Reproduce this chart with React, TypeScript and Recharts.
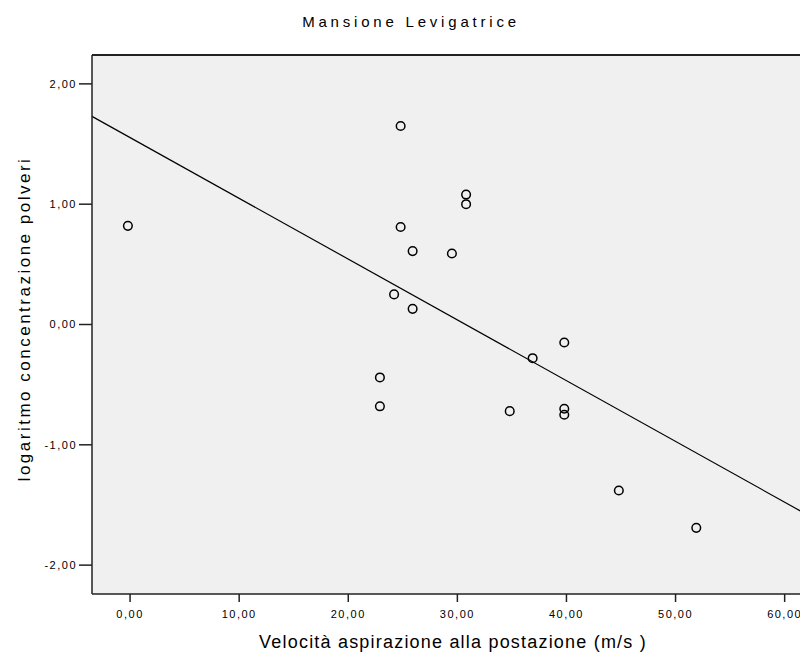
import React from "react";
import {
  ScatterChart,
  Scatter,
  XAxis,
  YAxis,
  CartesianGrid,
  ReferenceLine,
} from "recharts";

// Data
const velocity = [-0.2, 24.8, 30.8, 30.8, 24.8, 25.9, 29.5, 24.2, 25.9, 39.8, 36.9, 22.9, 22.9, 34.8, 39.8, 39.8, 44.8, 51.9];
const logConcentration = [0.82, 1.65, 1.08, 1.0, 0.81, 0.61, 0.59, 0.25, 0.13, -0.15, -0.28, -0.44, -0.68, -0.72, -0.7, -0.75, -1.38, -1.69];

// Fit line endpoints (at plot edges)
const fitLineX = [-3.49, 62.14];
const fitLineY = [1.73, -1.585];

const xTicks = [0, 10, 20, 30, 40, 50, 60];
const yTicks = [-2, -1, 0, 1, 2];
const xDomain = [-3.49, 62.14];
const yDomain = [-2.24, 2.24];

const title = "Mansione Levigatrice";
const xLabel = "Velocità aspirazione alla postazione (m/s )";
const yLabel = "logaritmo concentrazione polveri";

const points = velocity.map((v, i) => ({ x: v, y: logConcentration[i] }));

const fmt = (v: number) => v.toFixed(2).replace(".", ",");

const FONT = "'Liberation Sans', Arial, sans-serif";

const Marker = (props: any) => {
  const { cx, cy } = props;
  if (cx == null || cy == null) return null;
  return <circle cx={cx} cy={cy} r={4.3} fill="none" stroke="#000" strokeWidth={1.5} />;
};

export default function App() {
  const W = 800;
  const H = 648;
  return (
    <div style={{ position: "relative", width: W, height: H, background: "#fff" }}>
      <ScatterChart
        width={W}
        height={H}
        margin={{ top: 47, right: 0, bottom: 0, left: 0 }}
      >
        <CartesianGrid horizontal={false} vertical={false} fill="#f0f0f0" />
        <XAxis
          type="number"
          dataKey="x"
          domain={xDomain}
          ticks={xTicks}
          allowDataOverflow
          height={62}
          tickSize={8}
          tickMargin={8}
          tickFormatter={fmt}
          axisLine={{ stroke: "#222", strokeWidth: 1.5 }}
          tickLine={{ stroke: "#222", strokeWidth: 1.5 }}
          tick={{ fill: "#000", fontSize: 11, fontFamily: FONT, letterSpacing: 1.5 }}
        />
        <YAxis
          type="number"
          dataKey="y"
          domain={yDomain}
          ticks={yTicks}
          allowDataOverflow
          width={84}
          tickSize={13}
          tickMargin={2}
          tickFormatter={fmt}
          axisLine={{ stroke: "#222", strokeWidth: 1.5 }}
          tickLine={{ stroke: "#222", strokeWidth: 1.5 }}
          tick={{ fill: "#000", fontSize: 11, fontFamily: FONT, letterSpacing: 1.5 }}
        />
        <ReferenceLine y={yDomain[1]} stroke="#222" strokeWidth={2} ifOverflow="visible" />
        <ReferenceLine
          segment={[
            { x: fitLineX[0], y: fitLineY[0] },
            { x: fitLineX[1], y: fitLineY[1] },
          ]}
          stroke="#000"
          strokeWidth={1.2}
          ifOverflow="visible"
        />
        <Scatter data={points} shape={Marker} isAnimationActive={false} />
      </ScatterChart>
      <svg
        width={W}
        height={H}
        style={{ position: "absolute", left: 0, top: 0, pointerEvents: "none" }}
      >
        <text
          x={403}
          y={19}
          textAnchor="middle"
          fontFamily={FONT}
          fontSize={15}
          letterSpacing={3.8}
          fill="#000"
        >
          {title}
        </text>
        <text
          x={445}
          y={640}
          textAnchor="middle"
          fontFamily={FONT}
          fontSize={18}
          letterSpacing={1.2}
          fill="#000"
        >
          {xLabel}
        </text>
        <text
          x={22}
          y={311}
          textAnchor="middle"
          fontFamily={FONT}
          fontSize={17}
          letterSpacing={2.5}
          fill="#000"
          transform="rotate(-90, 22, 311)"
        >
          {yLabel}
        </text>
      </svg>
    </div>
  );
}
